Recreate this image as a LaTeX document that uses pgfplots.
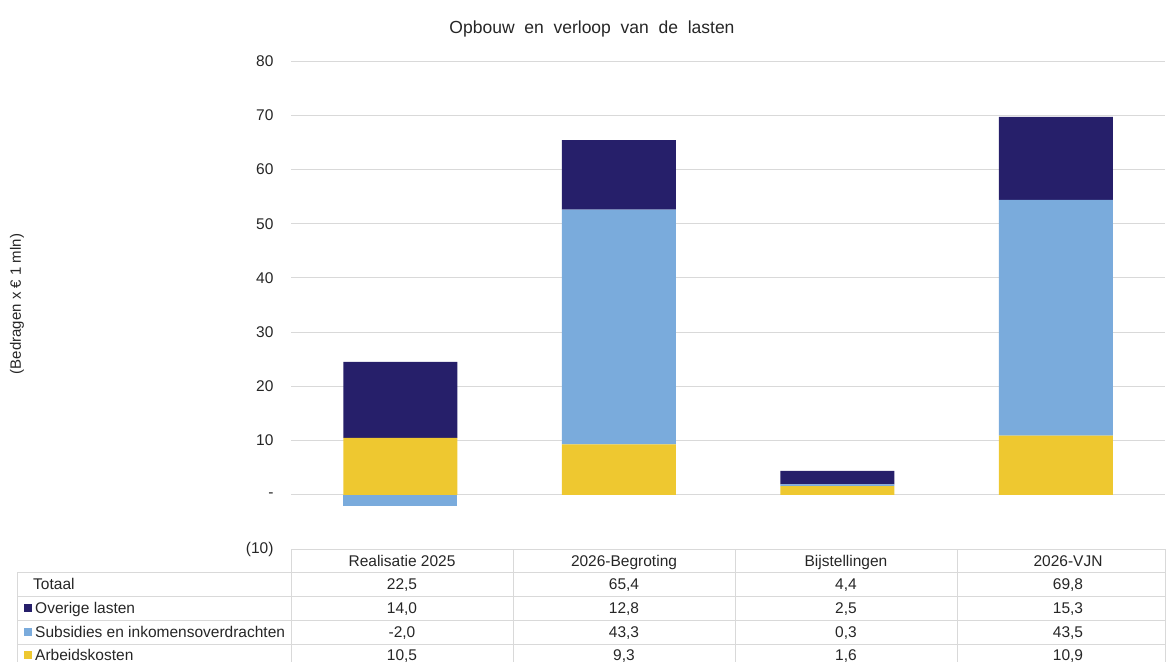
\documentclass[border=0pt]{standalone}
\usepackage{fontspec}
\setmainfont{Liberation Sans}
\usepackage{pgfplots}
\pgfplotsset{compat=1.18}
\definecolor{navy}{HTML}{261F6A}
\definecolor{lblue}{HTML}{7AABDC}
\definecolor{ylw}{HTML}{EEC830}
\definecolor{gridc}{HTML}{D9D9D9}
\definecolor{txt}{HTML}{262626}
\newcommand{\tf}{\fontsize{15.5}{18}\selectfont}
\tikzset{cell/.style={font=\tf, text=txt, text height=11pt, text depth=0pt, inner ysep=0pt}}
\begin{document}
\begin{tikzpicture}[x=1pt,y=1pt]
\path[use as bounding box] (0,0) rectangle (1166,-662);
\begin{axis}[at={(291pt,-549pt)}, anchor=south west, scale only axis,
  width=874pt, height=488pt, ymin=-10, ymax=80, xmin=-0.5, xmax=3.5,
  ybar stacked, bar width=114pt,
  axis line style={draw=none}, tick style={draw=none}, xtick=\empty,
  ytick={-10,0,10,20,30,40,50,60,70,80},
  yticklabels={(10),-,10,20,30,40,50,60,70,80},
  yticklabel style={font=\tf, text=txt, xshift=-14pt},
  ymajorgrids, grid style={gridc, line width=0.9pt}]
\addplot[fill=ylw, draw=none] coordinates {(0,10.5) (1,9.3) (2,1.6) (3,10.9)};
\addplot[fill=lblue, draw=none] coordinates {(0,0) (1,43.3) (2,0.3) (3,43.5)};
\addplot[fill=navy, draw=none] coordinates {(0,14.0) (1,12.8) (2,2.5) (3,15.3)};
\end{axis}
\begin{axis}[at={(291pt,-549pt)}, anchor=south west, scale only axis,
  width=874pt, height=488pt, ymin=-10, ymax=80, xmin=-0.5, xmax=3.5,
  ybar, bar width=114pt, hide axis]
\addplot[fill=lblue, draw=none] coordinates {(0,-2.0)};
\end{axis}
% title and y label
\node[font=\fontsize{17.5}{20}\selectfont, text=txt, text height=12.5pt, text depth=0pt, inner ysep=0pt] at (592,-27) {Opbouw\ \ en\ \ verloop\ \ van\ \ de\ \ lasten};
\node[font=\fontsize{15}{18}\selectfont, text=txt, rotate=90] at (17,-304) {(Bedragen x € 1 mln)};
% table grid
\begin{scope}[draw=gridc, line width=0.9pt]
\draw (291,-549) -- (1165,-549);
\foreach \yy in {572,596,620,644} \draw (17,-\yy) -- (1165,-\yy);
\draw (17,-572) -- (17,-662);
\foreach \xx in {291,513,735,957,1165} \draw (\xx,-549) -- (\xx,-662);
\end{scope}
% header
\foreach \xx/\lab in {402/Realisatie 2025, 624/2026-Begroting, 846/Bijstellingen, 1068/2026-VJN}
  \node[cell] at (\xx,-561) {\lab};
% row labels
\node[cell, anchor=west, inner xsep=0pt] at (33,-584) {Totaal};
\fill[navy] (24,-604) rectangle (32,-612);
\node[cell, anchor=west, inner xsep=0pt] at (35,-608) {Overige lasten};
\fill[lblue] (24,-628) rectangle (32,-636);
\node[cell, anchor=west, inner xsep=0pt] at (35,-632) {Subsidies en inkomensoverdrachten};
\fill[ylw] (24,-651) rectangle (32,-659);
\node[cell, anchor=west, inner xsep=0pt] at (35,-654.5) {Arbeidskosten};
% values
\foreach \xx/\a/\b/\c/\d in {402/22{,}5/14{,}0/-2{,}0/10{,}5, 624/65{,}4/12{,}8/43{,}3/9{,}3, 846/4{,}4/2{,}5/0{,}3/1{,}6, 1068/69{,}8/15{,}3/43{,}5/10{,}9} {
  \node[cell] at (\xx,-584) {\a};
  \node[cell] at (\xx,-608) {\b};
  \node[cell] at (\xx,-632) {\c};
  \node[cell] at (\xx,-654.5) {\d};
}
\end{tikzpicture}
\end{document}
